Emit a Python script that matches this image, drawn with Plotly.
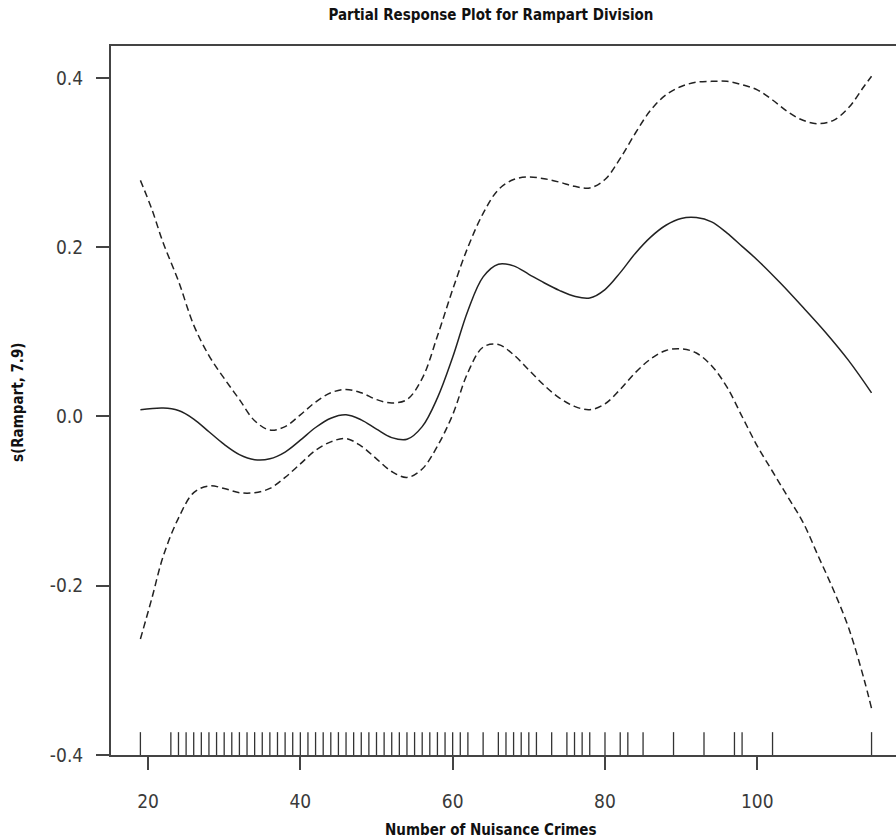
import plotly.graph_objects as go

# ---- data ----
fit_x = [19, 22, 24, 26, 28, 30, 32, 34, 36, 38, 40, 42, 44, 46, 48, 50, 52, 54, 56, 58,
         60, 62, 64, 66, 68, 70, 72, 74, 76, 78, 80, 82, 84, 86, 88, 90, 92, 94, 96, 98,
         100, 103, 106, 109, 112, 115]
fit_y = [0.008, 0.010, 0.007, -0.003, -0.018, -0.033, -0.045, -0.051, -0.050, -0.042,
         -0.028, -0.013, -0.002, 0.002, -0.004, -0.015, -0.025, -0.027, -0.012, 0.022,
         0.070, 0.125, 0.165, 0.180, 0.178, 0.168, 0.158, 0.149, 0.142, 0.140,
         0.150, 0.170, 0.193, 0.212, 0.226, 0.234, 0.235, 0.230, 0.217, 0.201,
         0.185, 0.158, 0.129, 0.099, 0.066, 0.028]

band_x = [19, 20.5, 22, 24, 26, 28, 30, 32, 34, 36, 38, 40, 42, 44, 46, 48, 50, 52, 54, 56,
          58, 60, 62, 64, 66, 68, 70, 72, 74, 76, 78, 80, 82, 84, 86, 88, 90, 92, 94, 96,
          98, 100, 102, 104, 106, 108, 110, 112, 114, 115]
upper_y = [0.279, 0.245, 0.205, 0.160, 0.108, 0.072, 0.045, 0.020, -0.005, -0.016,
           -0.012, 0.002, 0.017, 0.028, 0.032, 0.028, 0.020, 0.016, 0.020, 0.045,
           0.095, 0.150, 0.200, 0.240, 0.268, 0.280, 0.283, 0.281, 0.277, 0.272,
           0.270, 0.280, 0.305, 0.335, 0.362, 0.380, 0.390, 0.395, 0.396, 0.396,
           0.392, 0.386, 0.374, 0.360, 0.350, 0.346, 0.350, 0.365, 0.390, 0.402]
lower_y = [-0.263, -0.215, -0.165, -0.120, -0.090, -0.082, -0.085, -0.090, -0.090, -0.085,
           -0.072, -0.056, -0.040, -0.030, -0.026, -0.035, -0.050, -0.065, -0.072, -0.062,
           -0.035, 0.002, 0.052, 0.082, 0.085, 0.073, 0.055, 0.037, 0.022, 0.012,
           0.008, 0.015, 0.032, 0.052, 0.068, 0.078, 0.080, 0.075, 0.060, 0.035,
           0.000, -0.035, -0.065, -0.095, -0.125, -0.165, -0.205, -0.250, -0.310, -0.345]

rug_x = [19] + list(range(23, 63)) + [64, 66, 67, 68, 69, 70, 71, 73, 75, 76, 77, 78,
                                      80, 82, 83, 85, 89, 93, 97, 98, 102, 115]

x_ticks = [20, 40, 60, 80, 100]
y_ticks = [-0.4, -0.2, 0.0, 0.2, 0.4]
y_tick_text = ["-0.4", "-0.2", "0.0", "0.2", "0.4"]

title_text = "Partial Response Plot for Rampart Division"
x_title = "Number of Nuisance Crimes"
y_title = "s(Rampart, 7.9)"

# ---- figure ----
Y_MIN, Y_MAX = -0.4, 0.4378
X_MIN, X_MAX = 15.14, 118.21
RUG_LEN = 0.027

FONT = "Liberation Sans Narrow, DejaVu Sans Condensed, Arial Narrow, sans-serif"
INK = "#222222"

fig = go.Figure()

# rug
rx, ry = [], []
for v in rug_x:
    rx += [v, v, None]
    ry += [Y_MIN, Y_MIN + RUG_LEN, None]
fig.add_trace(go.Scatter(x=rx, y=ry, mode="lines", line=dict(color="#333", width=1.3),
                         hoverinfo="skip", showlegend=False))

fig.add_trace(go.Scatter(x=band_x, y=upper_y, mode="lines",
                         line=dict(color=INK, width=1.5, dash="7px,4px", shape="spline", smoothing=1.0),
                         showlegend=False))
fig.add_trace(go.Scatter(x=band_x, y=lower_y, mode="lines",
                         line=dict(color=INK, width=1.5, dash="7px,4px", shape="spline", smoothing=1.0),
                         showlegend=False))
fig.add_trace(go.Scatter(x=fit_x, y=fit_y, mode="lines",
                         line=dict(color=INK, width=1.5, shape="spline", smoothing=1.0),
                         showlegend=False))

fig.update_layout(
    width=896, height=840,
    margin=dict(l=111, r=0, t=46, b=85, pad=0),
    paper_bgcolor="white", plot_bgcolor="white",
    font=dict(family=FONT, color=INK),
    title=dict(text="<b>" + title_text + "</b>", x=0.484, xref="paper", xanchor="center",
               y=1 - 15 / 840, yref="container", yanchor="middle",
               font=dict(family=FONT, size=15, color="#111")),
    xaxis=dict(range=[X_MIN, X_MAX], showgrid=False, zeroline=False,
               showline=True, linecolor="#444", linewidth=2, mirror=True,
               ticks="outside", ticklen=13, tickwidth=1.5, tickcolor="#444",
               tickvals=x_ticks, ticktext=[str(v) for v in x_ticks],
               tickfont=dict(family=FONT, size=19, color="#3a3a3a"),
               ticklabelstandoff=15),
    yaxis=dict(range=[Y_MIN, Y_MAX], showgrid=False, zeroline=False,
               showline=True, linecolor="#444", linewidth=2, mirror=False,
               ticks="outside", ticklen=13, tickwidth=1.5, tickcolor="#444",
               tickvals=y_ticks, ticktext=y_tick_text,
               tickfont=dict(family=FONT, size=19, color="#3a3a3a"),
               ticklabelstandoff=9),
    annotations=[
        dict(text="<b>" + x_title + "</b>", xref="paper", yref="paper",
             x=0.484, y=-75 / 709, xanchor="center", yanchor="middle", showarrow=False,
             font=dict(family=FONT, size=15, color="#111")),
        dict(text="<b>" + y_title + "</b>", xref="paper", yref="paper",
             x=-93 / 785, y=353 / 709, xanchor="center", yanchor="middle", showarrow=False,
             textangle=-90, font=dict(family=FONT, size=15, color="#111")),
    ],
)

fig.write_html("out.html")
